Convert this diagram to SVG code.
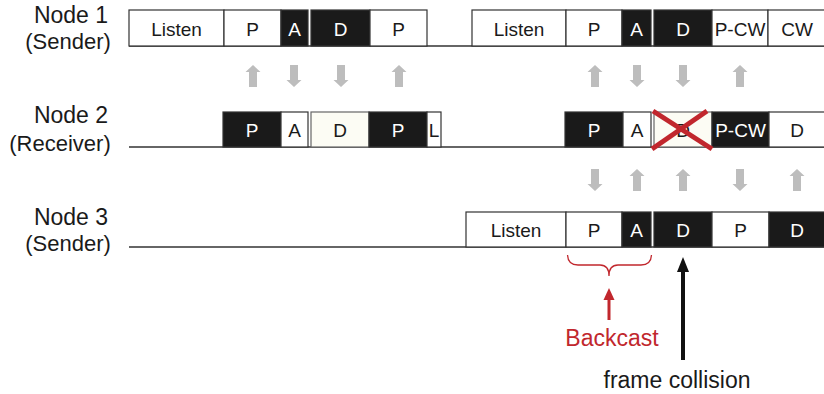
<svg xmlns="http://www.w3.org/2000/svg" width="824" height="394" viewBox="0 0 824 394">
<style>
  .lbl { font-family: "Liberation Sans", Arial, sans-serif; font-size: 22px; fill: #1a1a1a; text-anchor: middle; }
  .t { font-family: "Liberation Sans", Arial, sans-serif; font-size: 19px; text-anchor: middle; fill: #1a1a1a; }
  .tw { fill: #ffffff; }
  .w { fill: #ffffff; stroke: #333333; stroke-width: 1.2; }
  .b { fill: #1a1a1a; stroke: #333333; stroke-width: 1.2; }
  .l { fill: #fcfcf4; stroke: #666666; stroke-width: 1.2; }
  .base { stroke: #333333; stroke-width: 1.4; fill: none; }
  .ga { fill: #bdbdbd; }
  .red { fill: #c1272d; }
</style>
<defs>
  <path id="up" d="M0,-11 L7.5,-4 L4,-4 L4,11 L-4,11 L-4,-4 L-7.5,-4 Z"/>
  <path id="down" d="M0,11 L7.5,4 L4,4 L4,-11 L-4,-11 L-4,4 L-7.5,4 Z"/>
</defs>
<rect x="0" y="0" width="824" height="394" fill="#ffffff"/>

<g id="node1">
  <text class="lbl" x="71" y="23" style="font-size:23px">Node 1</text>
  <text class="lbl" x="68" y="49">(Sender)</text>
  <line class="base" x1="129" y1="46" x2="824" y2="46"/>
  <rect class="w" x="129" y="10" width="95" height="36"/><text class="t" x="176.5" y="36">Listen</text>
  <rect class="w" x="224" y="10" width="57" height="36"/><text class="t" x="252.5" y="36">P</text>
  <rect class="b" x="281" y="10" width="27" height="36"/><text class="t tw" x="294.5" y="36">A</text>
  <rect class="b" x="311" y="10" width="59" height="36"/><text class="t tw" x="340.5" y="36">D</text>
  <rect class="w" x="370" y="10" width="57" height="36"/><text class="t" x="398.5" y="36">P</text>
  <rect class="w" x="472" y="10" width="94" height="36"/><text class="t" x="519" y="36">Listen</text>
  <rect class="w" x="566" y="10" width="56" height="36"/><text class="t" x="594" y="36">P</text>
  <rect class="b" x="622" y="10" width="29" height="36"/><text class="t tw" x="636.5" y="36">A</text>
  <rect class="b" x="654" y="10" width="58" height="36"/><text class="t tw" x="683" y="36">D</text>
  <rect class="w" x="712" y="10" width="56" height="36"/><text class="t" x="740" y="36">P-CW</text>
  <rect class="w" x="768" y="10" width="62" height="36"/><text class="t" x="797" y="36">CW</text>
</g>

<g id="node2">
  <text class="lbl" x="71" y="123" style="font-size:23px">Node 2</text>
  <text class="lbl" x="60" y="151">(Receiver)</text>
  <line class="base" x1="129" y1="147" x2="824" y2="147"/>
  <rect class="b" x="223" y="112" width="58" height="35"/><text class="t tw" x="252" y="137">P</text>
  <rect class="w" x="281" y="112" width="27" height="35"/><text class="t" x="294.5" y="137">A</text>
  <rect class="l" x="311" y="112" width="58" height="35"/><text class="t" x="340" y="137">D</text>
  <rect class="b" x="369" y="112" width="58" height="35"/><text class="t tw" x="398" y="137">P</text>
  <rect class="w" x="427" y="112" width="14" height="35"/><text class="t" x="434" y="137">L</text>
  <rect class="b" x="565" y="112" width="58" height="35"/><text class="t tw" x="594" y="137">P</text>
  <rect class="w" x="623" y="112" width="28" height="35"/><text class="t" x="637" y="137">A</text>
  <rect class="l" x="654" y="112" width="58" height="35"/><text class="t" x="683" y="137">D</text>
  <rect class="b" x="712" y="112" width="57" height="35"/><text class="t tw" x="740.5" y="137">P-CW</text>
  <rect class="w" x="769" y="112" width="61" height="35"/><text class="t" x="797" y="137">D</text>
  <g id="collision-x" stroke="#c1272d" stroke-width="5">
    <line x1="653" y1="111" x2="712" y2="149"/>
    <line x1="707" y1="111" x2="652" y2="149"/>
  </g>
</g>

<g id="node3">
  <text class="lbl" x="71" y="225" style="font-size:23px">Node 3</text>
  <text class="lbl" x="68" y="251">(Sender)</text>
  <line class="base" x1="129" y1="247" x2="824" y2="247"/>
  <rect class="w" x="466" y="212" width="100" height="35"/><text class="t" x="516" y="237">Listen</text>
  <rect class="w" x="566" y="212" width="56" height="35"/><text class="t" x="594" y="237">P</text>
  <rect class="b" x="622" y="212" width="29" height="35"/><text class="t tw" x="636.5" y="237">A</text>
  <rect class="b" x="654" y="212" width="58" height="35"/><text class="t tw" x="683" y="237">D</text>
  <rect class="w" x="712" y="212" width="57" height="35"/><text class="t" x="740.5" y="237">P</text>
  <rect class="b" x="769" y="212" width="61" height="35"/><text class="t tw" x="797" y="237">D</text>
</g>

<g id="connectors">
  <g class="ga">
    <use href="#up" x="253" y="76"/>
    <use href="#down" x="294" y="76"/>
    <use href="#down" x="341" y="76"/>
    <use href="#up" x="399" y="76"/>
    <use href="#up" x="595" y="76"/>
    <use href="#down" x="637" y="76"/>
    <use href="#down" x="683" y="76"/>
    <use href="#up" x="740" y="76"/>
    <use href="#down" x="595" y="180"/>
    <use href="#up" x="637" y="180"/>
    <use href="#up" x="683" y="180"/>
    <use href="#down" x="740" y="180"/>
    <use href="#up" x="797" y="180"/>
  </g>
  <path d="M567.5,255 Q568,265 578,265 L600,265 Q609,265 609,276 Q609,265 618,265 L641,265 Q651,265 651.5,255" fill="none" stroke="#c1272d" stroke-width="1.3"/>
  <line x1="609" y1="320" x2="609" y2="298" stroke="#c1272d" stroke-width="3"/>
  <polygon class="red" points="609,288 603.5,300 614.5,300"/>
  <line x1="683" y1="360" x2="683" y2="268" stroke="#111111" stroke-width="4"/>
  <polygon points="683,257 677,272 689,272" fill="#111111"/>
</g>

<g id="annotations">
  <text class="lbl" x="612" y="346" style="fill:#c1272d;font-size:23px">Backcast</text>
  <text class="lbl" x="677" y="388" style="font-size:23px">frame collision</text>
</g>
</svg>
